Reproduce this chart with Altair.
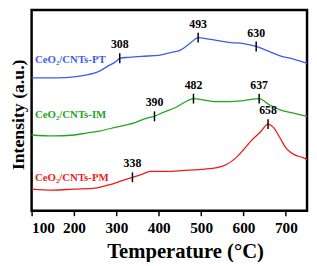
import altair as alt
import pandas as pd

# Curves: temperature (°C) and signal (arbitrary units)
pt_temp = [100,130,160,200,230,260,280,300,308,330,360,400,430,450,470,485,493,510,540,570,600,630,660,690,720,750]
pt_val  = [135,135,135,136,138,142,147,152,155,156,157,158,161,163,169,174,176,175,173,171,170,167,162,157,154,150]

im_temp = [100,150,200,230,260,300,340,370,390,410,440,460,482,500,530,560,600,637,660,690,720,750]
im_val  = [77,76,77,79,81,85,89,94,96,100,105,110,114,113,111,111,112,114,108,102,99,96]

pm_temp = [100,150,200,250,280,310,338,360,380,420,460,500,540,560,580,600,620,640,658,670,685,700,720,740,750]
pm_val  = [22,21,22,23,26,30,34,37,40,40,41,42,44,47,53,62,72,80,88,85,75,64,57,54,52]

series_names = ["CeO₂/CNTs-PT", "CeO₂/CNTs-IM", "CeO₂/CNTs-PM"]
series_colors = ["#3a5cf0", "#22a522", "#f01a1a"]
label_vals = [153, 97, 33]

# Peak markers
peak_temp = [308, 493, 630, 390, 482, 637, 338, 658]
peak_val  = [155, 176, 167, 96, 114, 114, 34, 88]

x_ticks = [100,150,200,250,300,350,400,450,500,550,600,650,700,750]

FONT = "Liberation Serif"

rows = []
for name, ts, vs in zip(series_names, [pt_temp, im_temp, pm_temp], [pt_val, im_val, pm_val]):
    for t, v in zip(ts, vs):
        rows.append({"series": name, "temp": t, "val": v})
df = pd.DataFrame(rows)

peaks = pd.DataFrame({"temp": peak_temp, "val": peak_val})
peaks["lo"] = peaks["val"] - 5
peaks["hi"] = peaks["val"] + 5
peaks["lab"] = peaks["val"] + 7
peaks["text"] = peaks["temp"].astype(str)

labels = pd.DataFrame({"series": series_names, "temp": [108]*3, "val": label_vals})

xscale = alt.Scale(domain=[100, 750], nice=False, zero=False)
yscale = alt.Scale(domain=[0, 204], nice=False, zero=False)
color = alt.Color("series:N", scale=alt.Scale(domain=series_names, range=series_colors), legend=None)

xaxis = alt.Axis(
    title="Temperature (°C)", values=x_ticks,
    labelExpr="datum.value % 100 === 0 ? datum.label : ''",
    tickSize={"condition": {"test": "datum.value % 100 === 0", "value": 5}, "value": 3},
    tickColor="black", tickWidth=1.5, domain=False, grid=False,
    labelFont=FONT, labelFontWeight="bold", labelFontSize=15.5, labelColor="black",
    labelPadding=5,
    titleFont=FONT, titleFontWeight="bold", titleFontSize=21, titleColor="black",
    titlePadding=5, titleX=156,
)
yaxis = alt.Axis(
    title="Intensity (a.u.)", labels=False, ticks=False, domain=False, grid=False,
    titleFont=FONT, titleFontWeight="bold", titleFontSize=18, titleColor="black",
    titlePadding=4, titleY=106,
)

lines = alt.Chart(df).mark_line(strokeWidth=1.3, interpolate="monotone").encode(
    x=alt.X("temp:Q", scale=xscale, axis=xaxis),
    y=alt.Y("val:Q", scale=yscale, axis=yaxis),
    color=color,
    detail="series:N",
)

ticks = alt.Chart(peaks).mark_rule(color="black", strokeWidth=1.5).encode(
    x="temp:Q", y="lo:Q", y2="hi:Q"
)

ptext = alt.Chart(peaks).mark_text(
    font=FONT, fontWeight="bold", fontSize=12, color="black", baseline="bottom"
).encode(x="temp:Q", y="lab:Q", text="text:N")

stext = alt.Chart(labels).mark_text(
    font=FONT, fontWeight="bold", fontSize=11, align="left", baseline="middle"
).encode(x="temp:Q", y="val:Q", text="series:N", color=color)

chart = alt.layer(lines, ticks, ptext, stext).properties(
    width=280, height=204,
    background="white",
    autosize=alt.AutoSizeParams(type="none"),
    padding={"left": 24, "top": 0, "right": 2, "bottom": 50},
).configure_view(stroke="black", strokeWidth=2.5)

chart.save("out.html", embed_options={"renderer": "svg", "actions": False})
